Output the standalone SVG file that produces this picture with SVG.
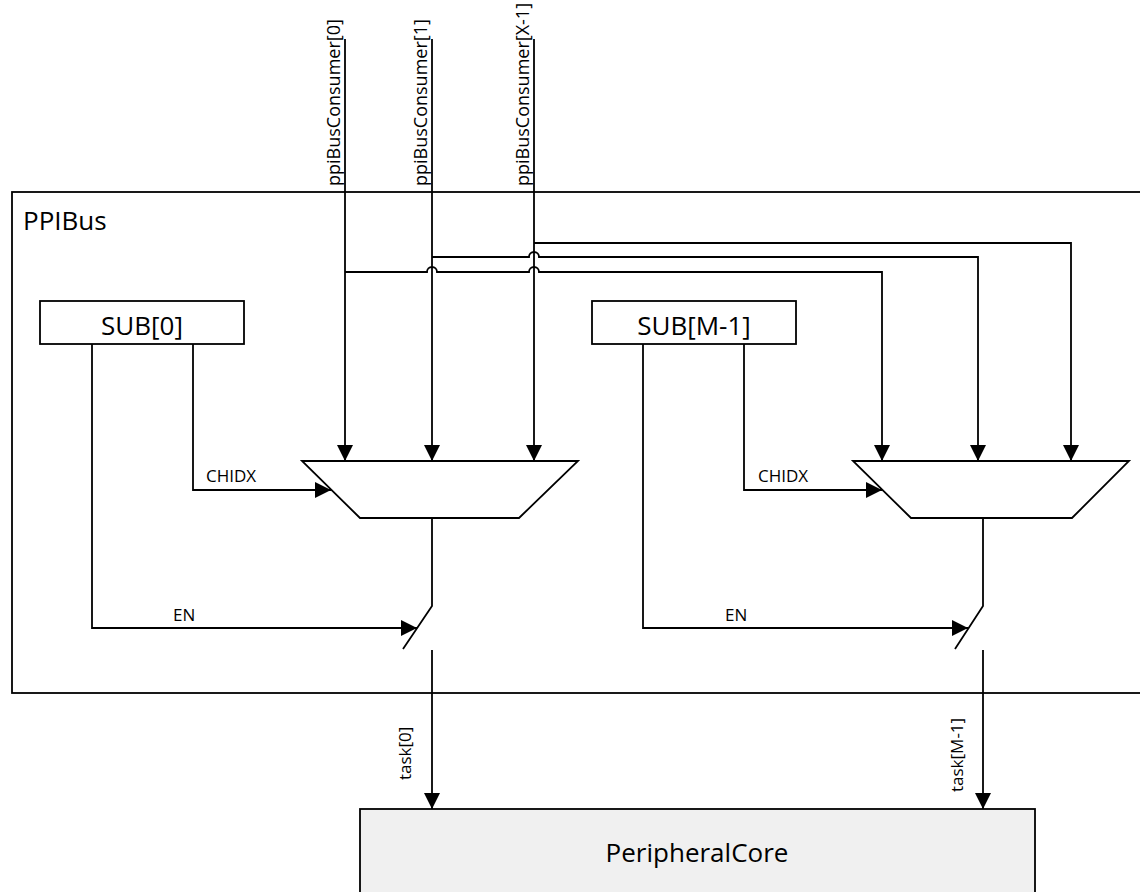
<svg xmlns="http://www.w3.org/2000/svg" width="1140" height="892" viewBox="0 0 1140 892">
<defs>
<style>
.ln{fill:none;stroke:#000;stroke-width:1.8}
.box{fill:#fff;stroke:#000;stroke-width:1.8}
.big{font-family:"Open Sans","Liberation Sans",sans-serif;font-size:26px;fill:#000}
.sm{font-family:"Open Sans","Liberation Sans",sans-serif;font-size:17px;fill:#000}
.top{font-family:"Open Sans","Liberation Sans",sans-serif;font-size:18px;fill:#000}
</style>
<marker id="arr" markerUnits="userSpaceOnUse" markerWidth="17" markerHeight="17" refX="16" refY="8" orient="auto">
<path d="M0,0 L16,8 L0,16 z" fill="#000"/>
</marker>
</defs>
<rect width="1140" height="892" fill="#fff"/>
<g id="PPIBus">
<rect x="12" y="192" width="1140" height="501" class="box"/>
<text x="23" y="230" class="big">PPIBus</text>
</g>
<g id="SUB0">
<rect x="40" y="301" width="204" height="43" class="box"/>
<text x="142" y="335" class="big" text-anchor="middle">SUB[0]</text>
</g>
<g id="SUBM1">
<rect x="592" y="301" width="204" height="43" class="box"/>
<text x="694" y="335" class="big" text-anchor="middle">SUB[M-1]</text>
</g>
<g id="MUX0">
<polygon points="302,461 578,461 519,518 360,518" class="box"/>
</g>
<g id="MUX1">
<polygon points="853,461 1129,461 1072,518 911,518" class="box"/>
</g>
<g id="PeripheralCore">
<rect x="360" y="809" width="675" height="100" fill="#f0f0f0" stroke="#000" stroke-width="1.8"/>
<text x="697" y="862" class="big" text-anchor="middle">PeripheralCore</text>
</g>
<g id="connectors">
<path class="ln" d="M345 39 V461" marker-end="url(#arr)"/>
<path class="ln" d="M432 39 V461" marker-end="url(#arr)"/>
<path class="ln" d="M534 39 V461" marker-end="url(#arr)"/>
<path class="ln" d="M345 272 H427 A5 5 0 0 1 437 272 H529 A5 5 0 0 1 539 272 H882 V461" marker-end="url(#arr)"/>
<path class="ln" d="M432 257 H529 A5 5 0 0 1 539 257 H978 V461" marker-end="url(#arr)"/>
<path class="ln" d="M534 243 H1071 V461" marker-end="url(#arr)"/>
<path class="ln" d="M92 344 V628 H417" marker-end="url(#arr)"/>
<path class="ln" d="M193 344 V490 H331" marker-end="url(#arr)"/>
<path class="ln" d="M432 518 V606 L403 649"/>
<path class="ln" d="M432 650 V809" marker-end="url(#arr)"/>
<path class="ln" d="M643 344 V628 H968" marker-end="url(#arr)"/>
<path class="ln" d="M744 344 V490 H882" marker-end="url(#arr)"/>
<path class="ln" d="M983 518 V606 L955 649"/>
<path class="ln" d="M983 650 V809" marker-end="url(#arr)"/>
<text class="top" transform="translate(340,186) rotate(-90)">ppiBusConsumer[0]</text>
<text class="top" transform="translate(427,186) rotate(-90)">ppiBusConsumer[1]</text>
<text class="top" transform="translate(529,186) rotate(-90)">ppiBusConsumer[X-1]</text>
<text class="sm" x="206" y="482">CHIDX</text>
<text class="sm" x="758" y="482">CHIDX</text>
<text class="sm" x="173" y="621">EN</text>
<text class="sm" x="725" y="621">EN</text>
<text class="sm" transform="translate(411,780) rotate(-90)">task[0]</text>
<text class="sm" transform="translate(963,792) rotate(-90)">task[M-1]</text>
</g>
</svg>
